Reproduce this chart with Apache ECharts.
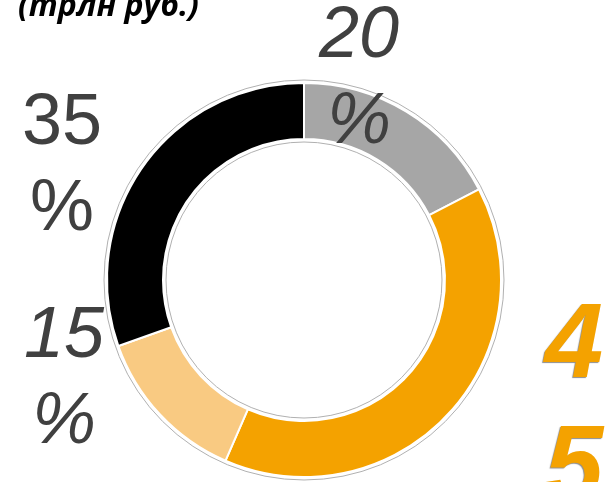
<!DOCTYPE html>
<html>
<head>
<meta charset="utf-8">
<script src="https://cdn.jsdelivr.net/npm/echarts@6/dist/echarts.min.js"></script>
<style>
  html, body { margin: 0; padding: 0; background: #fff; }
  #chart { width: 610px; height: 482px; }
</style>
</head>
<body>
<div id="chart"></div>
<script>
// доли, по часовой стрелке от 12 часов
const names = ['A', 'B', 'C', 'D']
const values = [20, 45, 15, 35]
const colors = ['#a6a6a6', '#f4a200', '#f9ca82', '#000000']
const labelTexts = ['20\n%', '4\n5\n%', '15\n%', '35\n%']

// where each label block sits (center x, center y)
const labelPos = [[359, 80], [574, 470], [64, 380], [62, 167]]

const chart = echarts.init(document.getElementById('chart'))

const grey = { color: '#404040', fontFamily: 'Liberation Sans', fontSize: 72, lineHeight: 86 }

const option = {
  animation: false,
  title: {
    text: '(трлн руб.)',
    left: 13,
    top: -14,
    textStyle: { fontFamily: 'Open Sans', fontWeight: 'bold', fontStyle: 'italic', fontSize: 32, color: '#000' }
  },
  series: [
    {
      type: 'pie',
      silent: true,
      center: [304, 280],
      radius: [138, 200],
      label: { show: false },
      itemStyle: { color: '#fff', borderColor: '#b0b0b0', borderWidth: 1 },
      data: [1]
    },
    {
      type: 'pie',
      center: [304, 280],
      radius: [141, 197],
      startAngle: 90,
      itemStyle: { borderColor: '#fff', borderWidth: 2 },
      labelLine: { show: false },
      label: {
        show: true,
        position: 'outside',
        formatter: p => labelTexts[p.dataIndex]
      },
      labelLayout: p => ({
        x: labelPos[p.dataIndex][0],
        y: labelPos[p.dataIndex][1],
        align: 'center',
        verticalAlign: 'middle'
      }),
      data: names.map((n, i) => {
        const item = { name: n, value: values[i], itemStyle: { color: colors[i] } }
        if (i === 1) {
          item.label = {
            color: '#f4a200', fontFamily: 'Liberation Sans', fontWeight: 'bold', fontStyle: 'italic',
            fontSize: 105, lineHeight: 122,
            textShadowColor: 'rgba(0,0,0,0.45)', textShadowBlur: 1, textShadowOffsetX: -1, textShadowOffsetY: 1
          }
        } else {
          item.label = Object.assign({}, grey, { fontStyle: i === 3 ? 'normal' : 'italic' })
        }
        return item
      })
    }
  ]
}

chart.setOption(option)
</script>
</body>
</html>
